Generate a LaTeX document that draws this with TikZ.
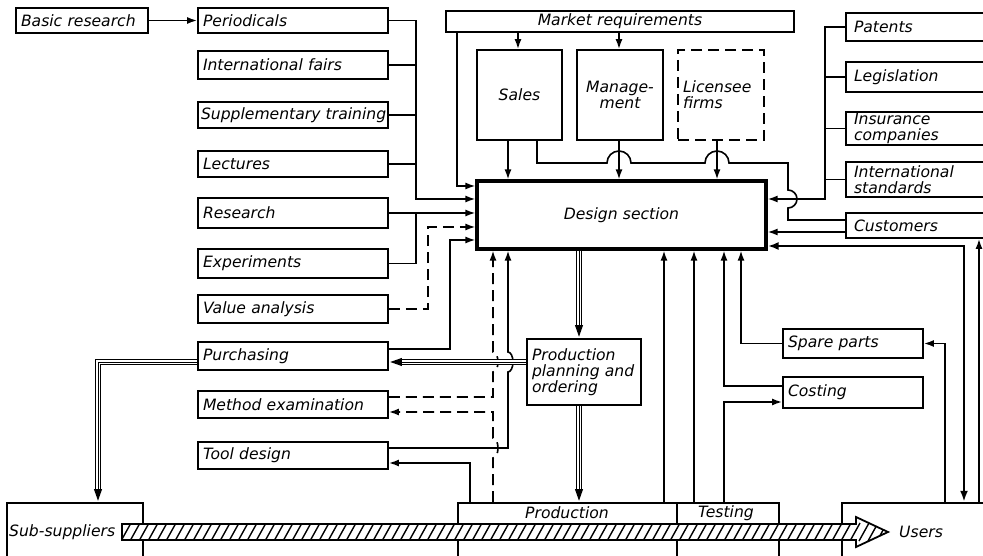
\documentclass[tikz,border=0pt]{standalone}
\usepackage{fontspec}
\setmainfont{DejaVu Sans}
\usetikzlibrary{arrows.meta}
\newcommand\bx[7][]{%
  \pgfmathsetmacro\bxw{#5-#3-10}%
  \pgfmathsetmacro\bxh{#6-#4}%
  \pgfmathsetmacro\bxcx{(#3+#5)/2}%
  \pgfmathsetmacro\bxcy{(#4+#6)/2}%
  \node[box,text width=\bxw pt,minimum height=\bxh pt,#1] (#2) at (\bxcx,\bxcy) {#7};}
\newcommand\hatchshape{(122,524) -- (856,524) -- (856,517) -- (888,532) -- (856,547) -- (856,540) -- (122,540) -- cycle}
\begin{document}
\begin{tikzpicture}[x=1pt,y=-1pt,
  font=\fontsize{15.6}{16}\selectfont\itshape,
  box/.style={draw, line width=1.8pt, rectangle, inner xsep=5pt, inner ysep=0pt, align=left},
  ln/.style={line width=1.6pt},
  arr/.style={ln, -{Latex[length=10pt,width=7pt]}},
  dsh/.style={dash pattern=on 11pt off 6pt},
  triple/.style={line width=6pt, -{Triangle[length=13pt,width=7pt]},
    postaction={draw=white, line width=3.6pt, -, shorten >=13pt},
    postaction={draw=black, line width=1pt, -, shorten >=12pt}},
  lbl/.style={inner sep=0pt}
]
\useasboundingbox (0,0) rectangle (983,556);
\clip (0,0) rectangle (983,556);
\fill[white] (0,0) rectangle (983,556);

% left column
\bx{bas}{16}{8}{148}{33}{Basic research}
\bx{per}{198}{8}{388}{33}{Periodicals}
\bx{ifa}{198}{51}{388}{79}{International fairs}
\bx[inner xsep=3pt]{sup}{196}{102}{390}{128}{\mbox{Supplementary training}}
\bx{lec}{198}{151}{388}{177}{Lectures}
\bx{res}{198}{198}{388}{228}{Research}
\bx{exp}{198}{249}{388}{278}{Experiments}
\bx{val}{198}{295}{388}{323}{Value analysis}
\bx{pur}{198}{342}{388}{370}{Purchasing}
\bx{met}{198}{391}{388}{418}{Method examination}
\bx{tool}{198}{442}{388}{469}{Tool design}

% top middle
\bx[align=center]{mkt}{446}{11}{794}{32}{Market requirements}
\bx[align=center]{sal}{477}{50}{562}{140}{Sales}
\bx[align=center]{man}{577}{50}{663}{140}{Manage-\\ment}
\bx[dsh]{lic}{678}{50}{764}{140}{Licensee\\firms}
\bx[align=center,line width=3.2pt]{des}{477}{181}{766}{249}{Design section}

% right column
\bx[inner xsep=8pt]{pat}{849}{13}{1003}{41}{Patents}
\bx[inner xsep=8pt]{leg}{849}{62}{1003}{92}{Legislation}
\bx[inner xsep=8pt]{ins}{849}{112}{1003}{145}{Insurance\\companies}
\bx[inner xsep=8pt]{ist}{849}{162}{1003}{197}{International\\standards}
\bx[inner xsep=8pt]{cus}{849}{213}{1003}{238}{Customers}

% middle lower
\bx{ppo}{527}{339}{641}{405}{Production\\planning and\\ordering}
\bx{spa}{783}{329}{923}{358}{Spare parts}
\bx{cos}{783}{377}{923}{408}{Costing}

% bottom boxes
\bx{sub}{7}{503}{143}{580}{}
\bx{prd}{458}{503}{677}{580}{}
\bx{tst}{677}{503}{779}{580}{}
\bx[line width=2.4pt]{usr}{842}{503}{1003}{580}{}

% hatched flow arrow
\path[fill=white] \hatchshape;
\begin{scope}
  \clip \hatchshape;
  \foreach \i in {0,...,86} \draw[line width=1.4pt] ({112+\i*9},541) -- ({122+\i*9},523);
\end{scope}
\draw[line width=1.8pt, line join=miter] \hatchshape;

\node[lbl, anchor=west] (subt) at (9,532) {Sub-suppliers};
\node[lbl] (prdt) at (567,513) {Production};
\node[lbl] (tstt) at (726,513) {Testing};
\node[lbl, anchor=west] (usrt) at (899,532) {Users};

% left inputs
\draw[arr] (bas.east) -- (per.west);
\draw[arr] (per.east) -| (416,199) -- (des.west |- 0,199);
\draw[ln] (ifa.east) -- (ifa.east -| 416,0);
\draw[ln] (sup.east) -- (sup.east -| 416,0);
\draw[ln] (lec.east) -- (lec.east -| 416,0);
\draw[arr] (res.east) -- (des.west |- res.east);
\draw[ln] (exp.east) -| (416,213);
\draw[arr,dsh] (val.east) -| (428,227) -- (des.west |- 0,227);
\draw[arr] (pur.east |- 0,349) -| (450,240) -- (des.west |- 0,240);
\draw[arr] (mkt.south -| 457,0) |- (des.west |- 0,186);

% market, sales, management, licensee
\draw[arr] (mkt.south -| 518,0) -- (sal.north -| 518,0);
\draw[arr] (mkt.south -| 619,0) -- (man.north -| 619,0);
\draw[arr] (sal.south -| 508,0) -- (des.north -| 508,0);
\draw[arr] (man.south -| 619,0) -- (des.north -| 619,0);
\draw[arr] (lic.south -| 717,0) -- (des.north -| 717,0);
\draw[ln] (sal.south -| 537,0) -- (537,163) -- (607,163)
  arc[start angle=180,end angle=0,radius=12pt] -- (705,163)
  arc[start angle=180,end angle=0,radius=12pt] -- (788,163) -- (788,190)
  arc[start angle=90,end angle=-90,radius=9pt] -- (788,220) -- (cus.west |- 0,220);

% right inputs
\draw[arr] (pat.west) -| (825,199) -- (des.east |- 0,199);
\draw[ln] (leg.west) -- (leg.west -| 825,0);
\draw[ln] (ins.west) -- (ins.west -| 825,0);
\draw[ln] (ist.west) -- (ist.west -| 825,0);
\draw[arr] (cus.west |- 0,232) -- (des.east |- 0,232);
\draw[line width=2.6pt, {Latex[length=11pt,width=8pt]}-{Latex[length=11pt,width=8pt]}] (des.east |- 0,246) -| (usr.north -| 964,0);
\draw[arr] (usr.north -| 979,0) -- (cus.south -| 979,0);
\draw[arr] (usr.north -| 945,0) |- (spa.east);
\draw[arr] (spa.west) -| (des.south -| 741,0);
\draw[arr] (cos.west |- 0,386) -| (des.south -| 724,0);
\draw[arr] (tst.north -| 724,0) |- (cos.west |- 0,402);
\draw[arr] (tst.north -| 694,0) -- (des.south -| 694,0);
\draw[arr] (prd.north -| 664,0) -- (des.south -| 664,0);

% production to left boxes
\draw[arr] (prd.north -| 470,0) |- (tool.east |- 0,463);
\draw[arr] (tool.east |- 0,448) -| (508,372)
  arc[start angle=-90,end angle=90,x radius=5pt,y radius=10pt] -- (des.south -| 508,0);
\draw[arr,dsh] (met.east |- 0,397) -| (493,372)
  arc[start angle=-90,end angle=90,x radius=5pt,y radius=10pt] -- (des.south -| 493,0);
\draw[arr,dsh] (prd.north -| 493,0) -- (493,458)
  arc[start angle=-90,end angle=90,x radius=5pt,y radius=10pt] -- (493,412) -- (met.east |- 0,412);

% material / order flow (triple lines)
\draw[triple] (des.south -| 579,0) -- (ppo.north -| 579,0);
\draw[triple] (ppo.south -| 579,0) -- (prd.north -| 579,0);
\draw[triple] (ppo.west |- 0,362) -- (pur.east |- 0,362);
\draw[triple] (pur.west |- 0,362) -| (sub.north -| 98,0);
\end{tikzpicture}
\end{document}
